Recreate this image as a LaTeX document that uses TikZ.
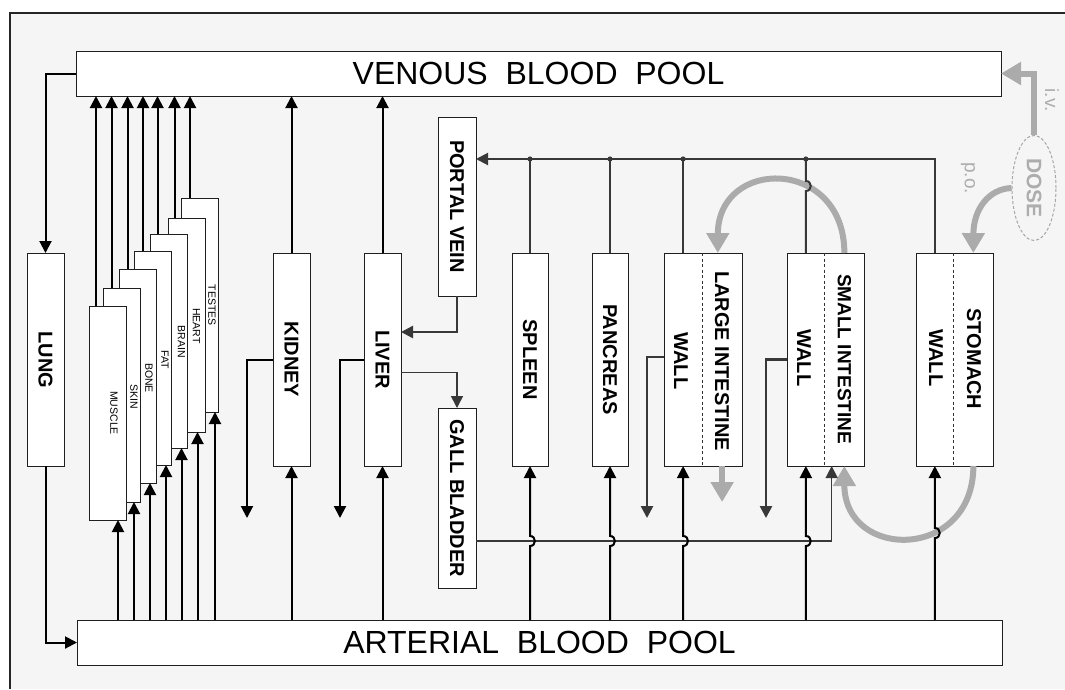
\documentclass[tikz,border=0pt]{standalone}
\usepackage{fontspec}
\setmainfont{Liberation Sans}
\usetikzlibrary{arrows.meta,calc,shapes.geometric}
\begin{document}
\begin{tikzpicture}[x=1pt,y=-1pt,
  box/.style={draw=black!88, fill=white, line width=1pt, inner sep=0pt, outer sep=0pt, anchor=north west},
  pool/.style={box, minimum width=925pt, minimum height=45pt, font=\fontsize{32}{36}\selectfont},
  organ/.style={box, minimum width=37pt, minimum height=213pt},
  gut/.style={box, minimum width=77pt, minimum height=213pt},
  tis/.style={box, minimum width=37pt, minimum height=214pt},
  lab/.style={rotate=-90, font=\bfseries\fontsize{20}{24}\selectfont, inner sep=0pt},
  tlab/.style={rotate=-90, font=\fontsize{10.5}{12}\selectfont, inner sep=0pt},
  gtxt/.style={rotate=-90, text=black!32, inner sep=0pt},
  tip/.style={-{Triangle[width=12pt,length=12pt]}},
  blk/.style={draw=black, line width=2pt},
  drk/.style={draw=black!78, line width=2pt},
  gry/.style={draw=black!33, line width=6pt, -{Triangle[width=22pt,length=20pt]}},
  divider/.style={draw=black!80, line width=0.8pt, dash pattern=on 3pt off 2.5pt},
  dot/.style={fill=black!78}
]
\useasboundingbox (0,0) rectangle (1065,689);
\fill[white] (0,0) rectangle (1065,689);
\fill[black!4] (10,13) rectangle (1065,689);
\draw[line width=1.5pt, black!85] (10,689) -- (10,13) -- (1065,13);

% pools
\node[pool] (venous) at (76,51) {VENOUS~~BLOOD~~POOL};
\node[pool] (arterial) at (77,620) {ARTERIAL~~BLOOD~~POOL};

% lung
\node[organ] (lung) at (27,253) {};
\node[lab] (lunglab) at (45.5,360) {LUNG};

% tissues (back to front)
\node[tis] (testes) at (181,198) {};
\node[tis] (heart) at (168,218) {};
\node[tis] (brain) at (150,234) {};
\node[tis] (fat) at (134,251) {};
\node[tis] (bone) at (119,269) {};
\node[tis] (skin) at (103,288) {};
\node[tis] (muscle) at (89,306) {};
\node[tlab] (mulab) at (114,413) {MUSCLE};
\node[tlab] (sklab) at (134,397) {SKIN};
\node[tlab] (bolab) at (149,378) {BONE};
\node[tlab] (falab) at (165,360) {FAT};
\node[tlab] (brlab) at (181.5,342) {BRAIN};
\node[tlab] (helab) at (196.5,326) {HEART};
\node[tlab] (telab) at (212,305) {TESTES};

% organs
\node[organ] (kidney) at (273,253) {};
\node[lab] (kilab) at (291.5,359.5) {KIDNEY};
\node[organ] (liver) at (364,253) {};
\node[lab] (lilab) at (382.5,359.5) {LIVER};
\node[box, minimum width=38pt, minimum height=179pt] (portal) at (438,117) {};
\node[lab] (polab) at (457,206.5) {PORTAL VEIN};
\node[box, minimum width=38pt, minimum height=180pt] (gall) at (438,408) {};
\node[lab] (galab) at (457,498) {GALL BLADDER};
\node[box, minimum width=36pt, minimum height=213pt] (spleen) at (512,253) {};
\node[lab] (splab) at (530,359.5) {SPLEEN};
\node[box, minimum width=36pt, minimum height=213pt] (pancreas) at (592,253) {};
\node[lab] (palab) at (610,359.5) {PANCREAS};
\node[box, minimum width=78pt, minimum height=213pt] (li) at (664,253) {};
\node[gut] (si) at (787,253) {};
\node[gut] (st) at (916,253) {};
\foreach \g in {li,si,st}{
  \draw[divider] ($(\g.north west)!0.49!(\g.north east)$) -- ($(\g.south west)!0.49!(\g.south east)$);
  \path (\g.north west) -- (\g.north east) coordinate[pos=0.245] (\g Wt) coordinate[pos=0.745] (\g Lt);
  \path (\g.south west) -- (\g.south east) coordinate[pos=0.245] (\g Wb) coordinate[pos=0.745] (\g Lb);
}
\path (li.north west) -- (li.north east) coordinate[pos=0.69] (liLtin);
\node[lab] (liwall) at (681,361) {WALL};
\node[lab] (lilumen) at (722,361) {LARGE INTESTINE};
\node[lab] (siwall) at (804,358) {WALL};
\node[lab, font=\bfseries\fontsize{19}{23}\selectfont] (silumen) at (844.5,359) {SMALL INTESTINE};
\node[lab] (stwall) at (936,358) {WALL};
\node[lab] (stlumen) at (974,359) {STOMACH};

% dose
\node[draw=black!35, dash pattern=on 3pt off 2pt, line width=1pt, ellipse, minimum width=44pt, minimum height=105pt, inner sep=0pt] (dose) at (1034,188) {};
\node[gtxt, font=\bfseries\fontsize{21}{24}\selectfont] (dosetxt) at (1034,188) {DOSE};
\node[gtxt, font=\fontsize{19}{22}\selectfont] (iv) at (1052,100) {i.v.};
\node[gtxt, font=\fontsize{19}{22}\selectfont] (po) at (968,178) {p.o.};

% grey lumen transport
\draw[gry] (dose.north) |- (venous.east);
\draw[gry] (dose.west) .. controls (988,189) and (973.4,210) .. (stLt);
\draw[gry] (siLt) .. controls ($(siLt)+(0,-96)$) and ($(liLtin)+(0,-96)$) .. (liLtin);
\draw[gry] (stLb) .. controls ($(stLb)+(0,95)$) and ($(siLb)+(0,95)$) .. (siLb);
\draw[gry] (liLb) -- ++(0,36);

% lung loop
\draw[blk,tip] (venous.west) -| (lung.north);
\draw[blk,tip] (lung.south) |- (arterial.west);

% tissues
\foreach \tn/\d in {muscle/7pt,skin/8.5pt,bone/8.5pt,fat/9pt,brain/7.5pt,heart/6.5pt,testes/9pt}
  \draw[blk,tip] let \p1=(\tn.north west), \p2=(venous.south) in (\x1+\d,\y1) -- (\x1+\d,\y2);
\foreach \tn/\d in {muscle/29pt,skin/31pt,bone/31pt,fat/32pt,brain/31.5pt,heart/29.5pt,testes/34pt}
  \draw[blk,tip] let \p1=(\tn.south west), \p2=(arterial.north) in (\x1+\d,\y2) -- (\x1+\d,\y1);

% kidney, liver
\coordinate (kout) at (247,518);
\coordinate (lout) at (340,518);
\foreach \o in {kidney,liver}{
  \draw[blk,tip] (\o.north) -- (\o.north |- venous.south);
  \draw[blk,tip] (arterial.north -| \o.south) -- (\o.south);
}
\draw[blk,tip] (kidney.west) -| (kout);
\draw[blk,tip] (liver.west) -| (lout);
\draw[drk,line width=2.5pt,tip] (portal.south) |- ([yshift=27.5pt]liver.east);
\draw[drk,line width=1.5pt,tip] ([yshift=-13pt]liver.east) -| (gall.north);

% portal collector
\coordinate (cy) at (0,159);
\draw[drk,tip] (stWt) |- (portal.east |- cy);
\draw[drk] (spleen.north) -- (spleen.north |- cy);
\draw[drk] (pancreas.north) -- (pancreas.north |- cy);
\draw[drk] (liWt) -- (liWt |- cy);
\draw[drk] (siWt) -- ($(siWt |- cy)+(0,32)$) .. controls ($(siWt |- cy)+(6.5,32)$) and ($(siWt |- cy)+(6.5,22)$) .. ($(siWt |- cy)+(0,22)$) -- (siWt |- cy);
\foreach \q in {spleen.north, pancreas.north, liWt, siWt}
  \fill[dot] (\q |- cy) circle (2.6pt);

% wall outflows
\coordinate (liout) at (647,518);
\coordinate (siout) at (766,518);
\draw[drk,line width=2.5pt,tip] ([yshift=2.5pt]li.west) -| (liout);
\draw[drk,line width=2.5pt,tip] (si.west) -| (siout);

% gall bladder to small intestine
\coordinate (gy) at (0,541);
\draw[drk,line width=1.5pt,tip] (gall.east |- gy) -| ($(si.south west)!0.58!(si.south east)$);

% arterial supply to gut organs (with hops)
\foreach \t in {spleen.south, pancreas.south, liWb, siWb}
  \draw[blk,tip] (arterial.north -| \t) -- ($(\t |- gy)+(0,5)$) .. controls ($(\t |- gy)+(6.5,5)$) and ($(\t |- gy)+(6.5,-5)$) .. ($(\t |- gy)+(0,-5)$) -- (\t);
\coordinate (hy) at (0,533);
\draw[blk,tip] (arterial.north -| stWb) -- ($(stWb |- hy)+(0,5)$) .. controls ($(stWb |- hy)+(6.5,5)$) and ($(stWb |- hy)+(6.5,-5)$) .. ($(stWb |- hy)+(0,-5)$) -- (stWb);
\end{tikzpicture}
\end{document}
